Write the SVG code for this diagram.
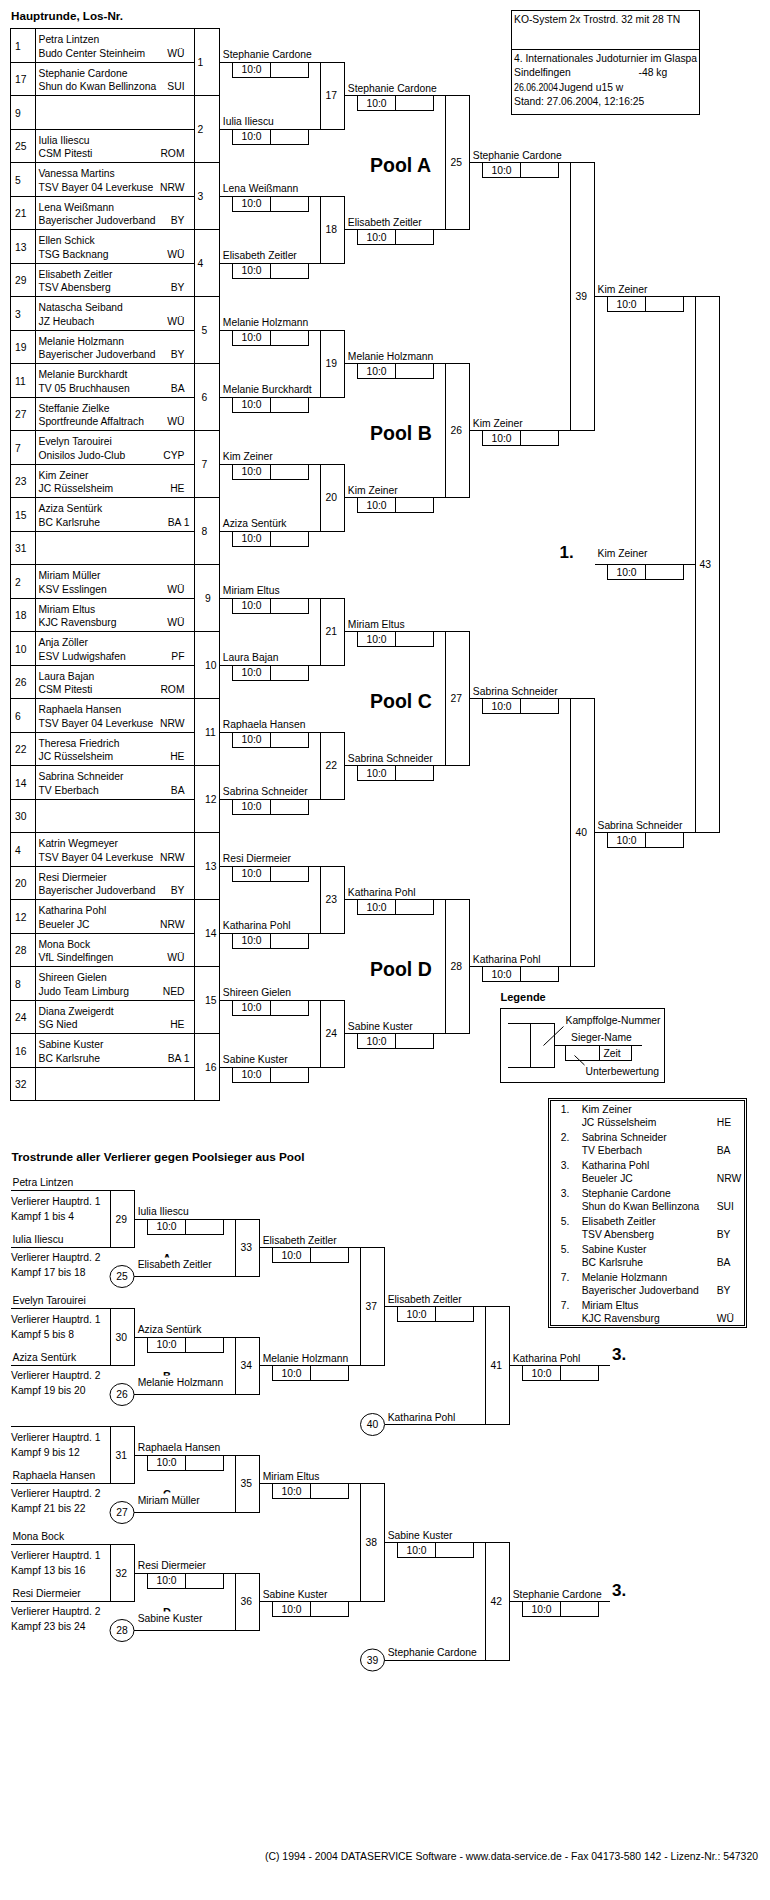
<svg xmlns="http://www.w3.org/2000/svg" width="770" height="1900" viewBox="0 0 770 1900" shape-rendering="crispEdges">
<defs>
<style>
text{font-family:"Liberation Sans",Arial,sans-serif;font-size:11px;fill:#000;transform-box:fill-box;transform-origin:0 0;transform:scaleX(.94)}
.c{text-anchor:middle;transform-origin:50% 0}
.e{text-anchor:end;transform-origin:100% 0}
.bd{font-weight:bold;transform:none}
.nx{transform:none}
.pool{font-size:19.5px}
.pl{font-size:17px}
rect,line,ellipse{fill:none;stroke:#000;stroke-width:1}
.wbg{fill:#fff;stroke:none}
</style>
<clipPath id="cInfo"><rect x="512" y="11" width="187" height="103"/></clipPath>
<clipPath id="cA"><rect x="150" y="1245" width="40" height="12.5"/></clipPath>
<clipPath id="cB"><rect x="150" y="1363" width="40" height="12.5"/></clipPath>
<clipPath id="cC"><rect x="150" y="1481" width="40" height="12.5"/></clipPath>
<clipPath id="cD"><rect x="150" y="1599" width="40" height="12.5"/></clipPath>
</defs>
<rect class="wbg" x="0" y="0" width="770" height="1900"/>

<g id="titles">
<text class="bd" x="11" y="20" textLength="112" lengthAdjust="spacingAndGlyphs">Hauptrunde, Los-Nr.</text>
<text class="bd" x="11.5" y="1160.5" textLength="293" lengthAdjust="spacingAndGlyphs">Trostrunde aller Verlierer gegen Poolsieger aus Pool</text>
<text class="nx" x="265" y="1859.5" font-size="9.6" textLength="493" lengthAdjust="spacingAndGlyphs">(C) 1994 - 2004 DATASERVICE Software - www.data-service.de - Fax 04173-580 142 - Lizenz-Nr.: 547320</text>
</g>

<g id="info">
<rect x="511.5" y="10.5" width="188" height="104"/>
<line x1="511.5" y1="49.5" x2="699.5" y2="49.5"/>
<g clip-path="url(#cInfo)">
<text x="514" y="23">KO-System 2x Trostrd. 32 mit 28 TN</text>
<text x="514" y="62">4. Internationales Judoturnier im Glaspa</text>
<text x="514" y="76.5">Sindelfingen</text>
<text x="638.5" y="76.5">-48 kg</text>
<text class="nx" x="514" y="91" textLength="44" lengthAdjust="spacingAndGlyphs">26.06.2004</text>
<text x="559" y="91">Jugend u15 w</text>
<text x="514" y="105.5">Stand: 27.06.2004, 12:16:25</text>
</g>
</g>

<g id="draw-table">
<rect x="10.5" y="28.5" width="209" height="1072"/>
<line x1="35.5" y1="28.5" x2="35.5" y2="1100.5"/>
<line x1="194.5" y1="28.5" x2="194.5" y2="1100.5"/>
<line x1="10.5" y1="62" x2="194.5" y2="62"/>
<line x1="10.5" y1="95.5" x2="219.5" y2="95.5"/>
<line x1="10.5" y1="129" x2="194.5" y2="129"/>
<line x1="10.5" y1="162.5" x2="219.5" y2="162.5"/>
<line x1="10.5" y1="196" x2="194.5" y2="196"/>
<line x1="10.5" y1="229.5" x2="219.5" y2="229.5"/>
<line x1="10.5" y1="263" x2="194.5" y2="263"/>
<line x1="10.5" y1="296.5" x2="219.5" y2="296.5"/>
<line x1="10.5" y1="330" x2="194.5" y2="330"/>
<line x1="10.5" y1="363.5" x2="219.5" y2="363.5"/>
<line x1="10.5" y1="397" x2="194.5" y2="397"/>
<line x1="10.5" y1="430.5" x2="219.5" y2="430.5"/>
<line x1="10.5" y1="464" x2="194.5" y2="464"/>
<line x1="10.5" y1="497.5" x2="219.5" y2="497.5"/>
<line x1="10.5" y1="531" x2="194.5" y2="531"/>
<line x1="10.5" y1="564.5" x2="219.5" y2="564.5"/>
<line x1="10.5" y1="598" x2="194.5" y2="598"/>
<line x1="10.5" y1="631.5" x2="219.5" y2="631.5"/>
<line x1="10.5" y1="665" x2="194.5" y2="665"/>
<line x1="10.5" y1="698.5" x2="219.5" y2="698.5"/>
<line x1="10.5" y1="732" x2="194.5" y2="732"/>
<line x1="10.5" y1="765.5" x2="219.5" y2="765.5"/>
<line x1="10.5" y1="799" x2="194.5" y2="799"/>
<line x1="10.5" y1="832.5" x2="219.5" y2="832.5"/>
<line x1="10.5" y1="866" x2="194.5" y2="866"/>
<line x1="10.5" y1="899.5" x2="219.5" y2="899.5"/>
<line x1="10.5" y1="933" x2="194.5" y2="933"/>
<line x1="10.5" y1="966.5" x2="219.5" y2="966.5"/>
<line x1="10.5" y1="1000" x2="194.5" y2="1000"/>
<line x1="10.5" y1="1033.5" x2="219.5" y2="1033.5"/>
<line x1="10.5" y1="1067" x2="194.5" y2="1067"/>
</g>

<g id="draw-entries">
<text x="15" y="50">1</text><text x="38.5" y="43.5">Petra Lintzen</text><text x="38.5" y="57">Budo Center Steinheim</text><text class="e" x="184.5" y="57">WÜ</text>
<text x="15" y="83.5">17</text><text x="38.5" y="77">Stephanie Cardone</text><text x="38.5" y="90.5">Shun do Kwan Bellinzona</text><text class="e" x="184.5" y="90.5">SUI</text>
<text x="15" y="117">9</text>
<text x="15" y="150.5">25</text><text x="38.5" y="144">Iulia Iliescu</text><text x="38.5" y="157.5">CSM Pitesti</text><text class="e" x="184.5" y="157.5">ROM</text>
<text x="15" y="184">5</text><text x="38.5" y="177.5">Vanessa Martins</text><text x="38.5" y="191">TSV Bayer 04 Leverkuse</text><text class="e" x="184.5" y="191">NRW</text>
<text x="15" y="217.5">21</text><text x="38.5" y="211">Lena Weißmann</text><text x="38.5" y="224.5">Bayerischer Judoverband</text><text class="e" x="184.5" y="224.5">BY</text>
<text x="15" y="251">13</text><text x="38.5" y="244.5">Ellen Schick</text><text x="38.5" y="258">TSG Backnang</text><text class="e" x="184.5" y="258">WÜ</text>
<text x="15" y="284.5">29</text><text x="38.5" y="278">Elisabeth Zeitler</text><text x="38.5" y="291.5">TSV Abensberg</text><text class="e" x="184.5" y="291.5">BY</text>
<text x="15" y="318">3</text><text x="38.5" y="311.5">Natascha Seiband</text><text x="38.5" y="325">JZ Heubach</text><text class="e" x="184.5" y="325">WÜ</text>
<text x="15" y="351.5">19</text><text x="38.5" y="345">Melanie Holzmann</text><text x="38.5" y="358.5">Bayerischer Judoverband</text><text class="e" x="184.5" y="358.5">BY</text>
<text x="15" y="385">11</text><text x="38.5" y="378.5">Melanie Burckhardt</text><text x="38.5" y="392">TV 05 Bruchhausen</text><text class="e" x="184.5" y="392">BA</text>
<text x="15" y="418.5">27</text><text x="38.5" y="412">Steffanie Zielke</text><text x="38.5" y="425.5">Sportfreunde Affaltrach</text><text class="e" x="184.5" y="425.5">WÜ</text>
<text x="15" y="452">7</text><text x="38.5" y="445.5">Evelyn Tarouirei</text><text x="38.5" y="459">Onisilos Judo-Club</text><text class="e" x="184.5" y="459">CYP</text>
<text x="15" y="485.5">23</text><text x="38.5" y="479">Kim Zeiner</text><text x="38.5" y="492.5">JC Rüsselsheim</text><text class="e" x="184.5" y="492.5">HE</text>
<text x="15" y="519">15</text><text x="38.5" y="512.5">Aziza Sentürk</text><text x="38.5" y="526">BC Karlsruhe</text><text class="e" x="189.5" y="526">BA 1</text>
<text x="15" y="552.5">31</text>
<text x="15" y="586">2</text><text x="38.5" y="579.5">Miriam Müller</text><text x="38.5" y="593">KSV Esslingen</text><text class="e" x="184.5" y="593">WÜ</text>
<text x="15" y="619.5">18</text><text x="38.5" y="613">Miriam Eltus</text><text x="38.5" y="626.5">KJC Ravensburg</text><text class="e" x="184.5" y="626.5">WÜ</text>
<text x="15" y="653">10</text><text x="38.5" y="646.5">Anja Zöller</text><text x="38.5" y="660">ESV Ludwigshafen</text><text class="e" x="184.5" y="660">PF</text>
<text x="15" y="686.5">26</text><text x="38.5" y="680">Laura Bajan</text><text x="38.5" y="693.5">CSM Pitesti</text><text class="e" x="184.5" y="693.5">ROM</text>
<text x="15" y="720">6</text><text x="38.5" y="713.5">Raphaela Hansen</text><text x="38.5" y="727">TSV Bayer 04 Leverkuse</text><text class="e" x="184.5" y="727">NRW</text>
<text x="15" y="753.5">22</text><text x="38.5" y="747">Theresa Friedrich</text><text x="38.5" y="760.5">JC Rüsselsheim</text><text class="e" x="184.5" y="760.5">HE</text>
<text x="15" y="787">14</text><text x="38.5" y="780.5">Sabrina Schneider</text><text x="38.5" y="794">TV Eberbach</text><text class="e" x="184.5" y="794">BA</text>
<text x="15" y="820.5">30</text>
<text x="15" y="854">4</text><text x="38.5" y="847.5">Katrin Wegmeyer</text><text x="38.5" y="861">TSV Bayer 04 Leverkuse</text><text class="e" x="184.5" y="861">NRW</text>
<text x="15" y="887.5">20</text><text x="38.5" y="881">Resi Diermeier</text><text x="38.5" y="894.5">Bayerischer Judoverband</text><text class="e" x="184.5" y="894.5">BY</text>
<text x="15" y="921">12</text><text x="38.5" y="914.5">Katharina Pohl</text><text x="38.5" y="928">Beueler JC</text><text class="e" x="184.5" y="928">NRW</text>
<text x="15" y="954.5">28</text><text x="38.5" y="948">Mona Bock</text><text x="38.5" y="961.5">VfL Sindelfingen</text><text class="e" x="184.5" y="961.5">WÜ</text>
<text x="15" y="988">8</text><text x="38.5" y="981.5">Shireen Gielen</text><text x="38.5" y="995">Judo Team Limburg</text><text class="e" x="184.5" y="995">NED</text>
<text x="15" y="1021.5">24</text><text x="38.5" y="1015">Diana Zweigerdt</text><text x="38.5" y="1028.5">SG Nied</text><text class="e" x="184.5" y="1028.5">HE</text>
<text x="15" y="1055">16</text><text x="38.5" y="1048.5">Sabine Kuster</text><text x="38.5" y="1062">BC Karlsruhe</text><text class="e" x="189.5" y="1062">BA 1</text>
<text x="15" y="1088.5">32</text>
</g>

<g id="m1-16">
<text x="197.5" y="66">1</text><text x="197.5" y="133">2</text><text x="197.5" y="200">3</text><text x="197.5" y="267">4</text>
<text x="201.5" y="334">5</text><text x="201.5" y="401">6</text><text x="201.5" y="468">7</text><text x="201.5" y="535">8</text>
<text x="205" y="602">9</text><text x="205" y="669">10</text><text x="205" y="736">11</text><text x="205" y="803">12</text>
<text x="205" y="870">13</text><text x="205" y="937">14</text><text x="205" y="1004">15</text><text x="205" y="1071">16</text>
</g>

<g id="connectors">
<line x1="219.5" y1="62" x2="320.5" y2="62"/>
<line x1="219.5" y1="129" x2="320.5" y2="129"/>
<line x1="219.5" y1="196" x2="320.5" y2="196"/>
<line x1="219.5" y1="263" x2="320.5" y2="263"/>
<line x1="219.5" y1="330" x2="320.5" y2="330"/>
<line x1="219.5" y1="397" x2="320.5" y2="397"/>
<line x1="219.5" y1="464" x2="320.5" y2="464"/>
<line x1="219.5" y1="531" x2="320.5" y2="531"/>
<line x1="219.5" y1="598" x2="320.5" y2="598"/>
<line x1="219.5" y1="665" x2="320.5" y2="665"/>
<line x1="219.5" y1="732" x2="320.5" y2="732"/>
<line x1="219.5" y1="799" x2="320.5" y2="799"/>
<line x1="219.5" y1="866" x2="320.5" y2="866"/>
<line x1="219.5" y1="933" x2="320.5" y2="933"/>
<line x1="219.5" y1="1000" x2="320.5" y2="1000"/>
<line x1="219.5" y1="1067" x2="320.5" y2="1067"/>
<line x1="344.5" y1="95.5" x2="445.5" y2="95.5"/>
<line x1="344.5" y1="229.5" x2="445.5" y2="229.5"/>
<line x1="344.5" y1="363.5" x2="445.5" y2="363.5"/>
<line x1="344.5" y1="497.5" x2="445.5" y2="497.5"/>
<line x1="344.5" y1="631.5" x2="445.5" y2="631.5"/>
<line x1="344.5" y1="765.5" x2="445.5" y2="765.5"/>
<line x1="344.5" y1="899.5" x2="445.5" y2="899.5"/>
<line x1="344.5" y1="1033.5" x2="445.5" y2="1033.5"/>
<line x1="469.5" y1="162.5" x2="570.5" y2="162.5"/>
<line x1="469.5" y1="430.5" x2="570.5" y2="430.5"/>
<line x1="469.5" y1="698.5" x2="570.5" y2="698.5"/>
<line x1="469.5" y1="966.5" x2="570.5" y2="966.5"/>
<line x1="594.5" y1="296.5" x2="695.5" y2="296.5"/>
<line x1="594.5" y1="832.5" x2="695.5" y2="832.5"/>
<line x1="594.5" y1="564.5" x2="695.5" y2="564.5"/>
<line x1="11" y1="1190.5" x2="134.5" y2="1190.5"/>
<line x1="11" y1="1247.5" x2="134.5" y2="1247.5"/>
<line x1="11" y1="1308.5" x2="134.5" y2="1308.5"/>
<line x1="11" y1="1365.5" x2="134.5" y2="1365.5"/>
<line x1="11" y1="1426.5" x2="134.5" y2="1426.5"/>
<line x1="11" y1="1483.5" x2="134.5" y2="1483.5"/>
<line x1="11" y1="1544.5" x2="134.5" y2="1544.5"/>
<line x1="11" y1="1601.5" x2="134.5" y2="1601.5"/>
<line x1="134.5" y1="1219" x2="235.5" y2="1219"/>
<line x1="134" y1="1276.5" x2="235.5" y2="1276.5"/>
<line x1="134.5" y1="1337" x2="235.5" y2="1337"/>
<line x1="134" y1="1394.5" x2="235.5" y2="1394.5"/>
<line x1="134.5" y1="1455" x2="235.5" y2="1455"/>
<line x1="134" y1="1512.5" x2="235.5" y2="1512.5"/>
<line x1="134.5" y1="1573" x2="235.5" y2="1573"/>
<line x1="134" y1="1630.5" x2="235.5" y2="1630.5"/>
<line x1="259.5" y1="1247.5" x2="360.5" y2="1247.5"/>
<line x1="259.5" y1="1365.5" x2="360.5" y2="1365.5"/>
<line x1="259.5" y1="1483.5" x2="360.5" y2="1483.5"/>
<line x1="259.5" y1="1601.5" x2="360.5" y2="1601.5"/>
<line x1="384.5" y1="1306.5" x2="485.5" y2="1306.5"/>
<line x1="384.5" y1="1424.5" x2="485.5" y2="1424.5"/>
<line x1="384.5" y1="1542.5" x2="485.5" y2="1542.5"/>
<line x1="384.5" y1="1660" x2="485.5" y2="1660"/>
<line x1="509.5" y1="1365.5" x2="609.5" y2="1365.5"/>
<line x1="509.5" y1="1601.5" x2="609.5" y2="1601.5"/>
</g>

<g id="r1-winners">
<text x="222.8" y="58.5">Stephanie Cardone</text><rect x="232.5" y="62" width="76" height="15"/><line x1="270.5" y1="62" x2="270.5" y2="77"/><text class="c" x="251.5" y="73.5">10:0</text>
<text x="222.8" y="125.5">Iulia Iliescu</text><rect x="232.5" y="129" width="76" height="15"/><line x1="270.5" y1="129" x2="270.5" y2="144"/><text class="c" x="251.5" y="140.5">10:0</text>
<text x="222.8" y="192.5">Lena Weißmann</text><rect x="232.5" y="196" width="76" height="15"/><line x1="270.5" y1="196" x2="270.5" y2="211"/><text class="c" x="251.5" y="207.5">10:0</text>
<text x="222.8" y="259.5">Elisabeth Zeitler</text><rect x="232.5" y="263" width="76" height="15"/><line x1="270.5" y1="263" x2="270.5" y2="278"/><text class="c" x="251.5" y="274.5">10:0</text>
<text x="222.8" y="326.5">Melanie Holzmann</text><rect x="232.5" y="330" width="76" height="15"/><line x1="270.5" y1="330" x2="270.5" y2="345"/><text class="c" x="251.5" y="341.5">10:0</text>
<text x="222.8" y="393.5">Melanie Burckhardt</text><rect x="232.5" y="397" width="76" height="15"/><line x1="270.5" y1="397" x2="270.5" y2="412"/><text class="c" x="251.5" y="408.5">10:0</text>
<text x="222.8" y="460.5">Kim Zeiner</text><rect x="232.5" y="464" width="76" height="15"/><line x1="270.5" y1="464" x2="270.5" y2="479"/><text class="c" x="251.5" y="475.5">10:0</text>
<text x="222.8" y="527.5">Aziza Sentürk</text><rect x="232.5" y="531" width="76" height="15"/><line x1="270.5" y1="531" x2="270.5" y2="546"/><text class="c" x="251.5" y="542.5">10:0</text>
<text x="222.8" y="594.5">Miriam Eltus</text><rect x="232.5" y="598" width="76" height="15"/><line x1="270.5" y1="598" x2="270.5" y2="613"/><text class="c" x="251.5" y="609.5">10:0</text>
<text x="222.8" y="661.5">Laura Bajan</text><rect x="232.5" y="665" width="76" height="15"/><line x1="270.5" y1="665" x2="270.5" y2="680"/><text class="c" x="251.5" y="676.5">10:0</text>
<text x="222.8" y="728.5">Raphaela Hansen</text><rect x="232.5" y="732" width="76" height="15"/><line x1="270.5" y1="732" x2="270.5" y2="747"/><text class="c" x="251.5" y="743.5">10:0</text>
<text x="222.8" y="795.5">Sabrina Schneider</text><rect x="232.5" y="799" width="76" height="15"/><line x1="270.5" y1="799" x2="270.5" y2="814"/><text class="c" x="251.5" y="810.5">10:0</text>
<text x="222.8" y="862.5">Resi Diermeier</text><rect x="232.5" y="866" width="76" height="15"/><line x1="270.5" y1="866" x2="270.5" y2="881"/><text class="c" x="251.5" y="877.5">10:0</text>
<text x="222.8" y="929.5">Katharina Pohl</text><rect x="232.5" y="933" width="76" height="15"/><line x1="270.5" y1="933" x2="270.5" y2="948"/><text class="c" x="251.5" y="944.5">10:0</text>
<text x="222.8" y="996.5">Shireen Gielen</text><rect x="232.5" y="1000" width="76" height="15"/><line x1="270.5" y1="1000" x2="270.5" y2="1015"/><text class="c" x="251.5" y="1011.5">10:0</text>
<text x="222.8" y="1063.5">Sabine Kuster</text><rect x="232.5" y="1067" width="76" height="15"/><line x1="270.5" y1="1067" x2="270.5" y2="1082"/><text class="c" x="251.5" y="1078.5">10:0</text>
</g>

<g id="m17"><rect x="320.5" y="62" width="24" height="67"/><text x="325.5" y="99.5">17</text></g>
<g id="m18"><rect x="320.5" y="196" width="24" height="67"/><text x="325.5" y="233.5">18</text></g>
<g id="m19"><rect x="320.5" y="330" width="24" height="67"/><text x="325.5" y="367.5">19</text></g>
<g id="m20"><rect x="320.5" y="464" width="24" height="67"/><text x="325.5" y="501.5">20</text></g>
<g id="m21"><rect x="320.5" y="598" width="24" height="67"/><text x="325.5" y="635.5">21</text></g>
<g id="m22"><rect x="320.5" y="732" width="24" height="67"/><text x="325.5" y="769.5">22</text></g>
<g id="m23"><rect x="320.5" y="866" width="24" height="67"/><text x="325.5" y="903.5">23</text></g>
<g id="m24"><rect x="320.5" y="1000" width="24" height="67"/><text x="325.5" y="1037.5">24</text></g>

<g id="r2-winners">
<text x="347.8" y="92">Stephanie Cardone</text><rect x="357.5" y="95.5" width="76" height="15"/><line x1="395.5" y1="95.5" x2="395.5" y2="110.5"/><text class="c" x="376.5" y="107">10:0</text>
<text x="347.8" y="226">Elisabeth Zeitler</text><rect x="357.5" y="229.5" width="76" height="15"/><line x1="395.5" y1="229.5" x2="395.5" y2="244.5"/><text class="c" x="376.5" y="241">10:0</text>
<text x="347.8" y="360">Melanie Holzmann</text><rect x="357.5" y="363.5" width="76" height="15"/><line x1="395.5" y1="363.5" x2="395.5" y2="378.5"/><text class="c" x="376.5" y="375">10:0</text>
<text x="347.8" y="494">Kim Zeiner</text><rect x="357.5" y="497.5" width="76" height="15"/><line x1="395.5" y1="497.5" x2="395.5" y2="512.5"/><text class="c" x="376.5" y="509">10:0</text>
<text x="347.8" y="628">Miriam Eltus</text><rect x="357.5" y="631.5" width="76" height="15"/><line x1="395.5" y1="631.5" x2="395.5" y2="646.5"/><text class="c" x="376.5" y="643">10:0</text>
<text x="347.8" y="762">Sabrina Schneider</text><rect x="357.5" y="765.5" width="76" height="15"/><line x1="395.5" y1="765.5" x2="395.5" y2="780.5"/><text class="c" x="376.5" y="777">10:0</text>
<text x="347.8" y="896">Katharina Pohl</text><rect x="357.5" y="899.5" width="76" height="15"/><line x1="395.5" y1="899.5" x2="395.5" y2="914.5"/><text class="c" x="376.5" y="911">10:0</text>
<text x="347.8" y="1030">Sabine Kuster</text><rect x="357.5" y="1033.5" width="76" height="15"/><line x1="395.5" y1="1033.5" x2="395.5" y2="1048.5"/><text class="c" x="376.5" y="1045">10:0</text>
</g>

<g id="pools">
<text class="bd pool" x="370" y="172">Pool A</text>
<text class="bd pool" x="370" y="440">Pool B</text>
<text class="bd pool" x="370" y="708">Pool C</text>
<text class="bd pool" x="370" y="976">Pool D</text>
</g>

<g id="m25"><rect x="445.5" y="95.5" width="24" height="134"/><text x="450.5" y="166.5">25</text></g>
<g id="m26"><rect x="445.5" y="363.5" width="24" height="134"/><text x="450.5" y="434.5">26</text></g>
<g id="m27"><rect x="445.5" y="631.5" width="24" height="134"/><text x="450.5" y="702.5">27</text></g>
<g id="m28"><rect x="445.5" y="899.5" width="24" height="134"/><text x="450.5" y="970.5">28</text></g>

<g id="r3-winners">
<text x="472.8" y="159">Stephanie Cardone</text><rect x="482.5" y="162.5" width="76" height="15"/><line x1="520.5" y1="162.5" x2="520.5" y2="177.5"/><text class="c" x="501.5" y="174">10:0</text>
<text x="472.8" y="427">Kim Zeiner</text><rect x="482.5" y="430.5" width="76" height="15"/><line x1="520.5" y1="430.5" x2="520.5" y2="445.5"/><text class="c" x="501.5" y="442">10:0</text>
<text x="472.8" y="695">Sabrina Schneider</text><rect x="482.5" y="698.5" width="76" height="15"/><line x1="520.5" y1="698.5" x2="520.5" y2="713.5"/><text class="c" x="501.5" y="710">10:0</text>
<text x="472.8" y="963">Katharina Pohl</text><rect x="482.5" y="966.5" width="76" height="15"/><line x1="520.5" y1="966.5" x2="520.5" y2="981.5"/><text class="c" x="501.5" y="978">10:0</text>
</g>

<g id="m39"><rect x="570.5" y="162.5" width="24" height="268"/><text x="575.5" y="300.5">39</text></g>
<g id="m40"><rect x="570.5" y="698.5" width="24" height="268"/><text x="575.5" y="836.5">40</text></g>

<g id="r4-winners">
<text x="597.5" y="293">Kim Zeiner</text><rect x="607.5" y="296.5" width="76" height="15"/><line x1="645.5" y1="296.5" x2="645.5" y2="311.5"/><text class="c" x="626.5" y="308">10:0</text>
<text x="597.5" y="829">Sabrina Schneider</text><rect x="607.5" y="832.5" width="76" height="15"/><line x1="645.5" y1="832.5" x2="645.5" y2="847.5"/><text class="c" x="626.5" y="844">10:0</text>
</g>

<g id="m43"><rect x="695.5" y="296.5" width="24" height="536"/><text x="699.5" y="568.5">43</text></g>

<g id="final">
<text class="bd pl" x="559.5" y="558">1.</text>
<text x="597.5" y="557.5">Kim Zeiner</text><rect x="607.5" y="564.5" width="76" height="15"/><line x1="645.5" y1="564.5" x2="645.5" y2="579.5"/><text class="c" x="626.5" y="576">10:0</text>
</g>

<g id="legend">
<text class="bd" x="500.5" y="1000.5" font-size="11.5">Legende</text>
<rect x="500.5" y="1008.5" width="164" height="73.5"/>
<line x1="508" y1="1023.5" x2="530.5" y2="1023.5"/>
<line x1="508" y1="1067" x2="530.5" y2="1067"/>
<rect x="530.5" y="1023.5" width="24" height="43.5"/>
<line x1="554.5" y1="1045.5" x2="641.5" y2="1045.5"/>
<rect x="565.5" y="1045.5" width="66" height="15"/>
<line x1="599" y1="1045.5" x2="599" y2="1060.5"/>
<line x1="543.5" y1="1045.5" x2="563.5" y2="1026.5" shape-rendering="auto"/>
<line x1="574.5" y1="1055.5" x2="584.5" y2="1065" shape-rendering="auto"/>
<text x="565.5" y="1024">Kampffolge-Nummer</text>
<text x="571" y="1041">Sieger-Name</text>
<text x="603.5" y="1057.5">Zeit</text>
<text x="585.5" y="1075">Unterbewertung</text>
</g>

<g id="ranking">
<rect x="548.5" y="1098" width="198" height="229.5"/>
<rect x="550.5" y="1100" width="194" height="225.5"/>
<text x="560.7" y="1113">1.</text><text x="581.7" y="1113">Kim Zeiner</text><text x="581.7" y="1126">JC Rüsselsheim</text><text x="716.7" y="1126">HE</text>
<text x="560.7" y="1141">2.</text><text x="581.7" y="1141">Sabrina Schneider</text><text x="581.7" y="1154">TV Eberbach</text><text x="716.7" y="1154">BA</text>
<text x="560.7" y="1169">3.</text><text x="581.7" y="1169">Katharina Pohl</text><text x="581.7" y="1182">Beueler JC</text><text x="716.7" y="1182">NRW</text>
<text x="560.7" y="1197">3.</text><text x="581.7" y="1197">Stephanie Cardone</text><text x="581.7" y="1210">Shun do Kwan Bellinzona</text><text x="716.7" y="1210">SUI</text>
<text x="560.7" y="1225">5.</text><text x="581.7" y="1225">Elisabeth Zeitler</text><text x="581.7" y="1238">TSV Abensberg</text><text x="716.7" y="1238">BY</text>
<text x="560.7" y="1253">5.</text><text x="581.7" y="1253">Sabine Kuster</text><text x="581.7" y="1266">BC Karlsruhe</text><text x="716.7" y="1266">BA</text>
<text x="560.7" y="1281.5">7.</text><text x="581.7" y="1281.5">Melanie Holzmann</text><text x="581.7" y="1294.5">Bayerischer Judoverband</text><text x="716.7" y="1294.5">BY</text>
<text x="560.7" y="1309.5">7.</text><text x="581.7" y="1309.5">Miriam Eltus</text><text x="581.7" y="1322.5">KJC Ravensburg</text><text x="716.7" y="1322.5">WÜ</text>
</g>

<g id="trost-left">
<text x="12.5" y="1186">Petra Lintzen</text>
<text x="11" y="1205">Verlierer Hauptrd. 1</text><text x="11" y="1220">Kampf 1 bis 4</text>
<text x="12.5" y="1243">Iulia Iliescu</text>
<text x="11" y="1261.5">Verlierer Hauptrd. 2</text><text x="11" y="1276.5">Kampf 17 bis 18</text>
<text x="12.5" y="1304">Evelyn Tarouirei</text>
<text x="11" y="1323">Verlierer Hauptrd. 1</text><text x="11" y="1338">Kampf 5 bis 8</text>
<text x="12.5" y="1361">Aziza Sentürk</text>
<text x="11" y="1379.5">Verlierer Hauptrd. 2</text><text x="11" y="1394.5">Kampf 19 bis 20</text>
<text x="11" y="1441">Verlierer Hauptrd. 1</text><text x="11" y="1456">Kampf 9 bis 12</text>
<text x="12.5" y="1479">Raphaela Hansen</text>
<text x="11" y="1497.5">Verlierer Hauptrd. 2</text><text x="11" y="1512.5">Kampf 21 bis 22</text>
<text x="12.5" y="1540">Mona Bock</text>
<text x="11" y="1559">Verlierer Hauptrd. 1</text><text x="11" y="1574">Kampf 13 bis 16</text>
<text x="12.5" y="1597">Resi Diermeier</text>
<text x="11" y="1615.5">Verlierer Hauptrd. 2</text><text x="11" y="1630.5">Kampf 23 bis 24</text>
</g>

<g id="m29"><rect x="110.5" y="1190.5" width="24" height="57"/><text x="115.5" y="1223">29</text></g>
<g id="m30"><rect x="110.5" y="1308.5" width="24" height="57"/><text x="115.5" y="1341">30</text></g>
<g id="m31"><rect x="110.5" y="1426.5" width="24" height="57"/><text x="115.5" y="1459">31</text></g>
<g id="m32"><rect x="110.5" y="1544.5" width="24" height="57"/><text x="115.5" y="1577">32</text></g>

<g id="c25"><ellipse cx="122" cy="1276.5" rx="12" ry="11" shape-rendering="auto"/><text class="c" x="122" y="1280.5">25</text></g>
<g id="c26"><ellipse cx="122" cy="1394.5" rx="12" ry="11" shape-rendering="auto"/><text class="c" x="122" y="1398.5">26</text></g>
<g id="c27"><ellipse cx="122" cy="1512.5" rx="12" ry="11" shape-rendering="auto"/><text class="c" x="122" y="1516.5">27</text></g>
<g id="c28"><ellipse cx="122" cy="1630.5" rx="12" ry="11" shape-rendering="auto"/><text class="c" x="122" y="1634.5">28</text></g>

<g id="letters">
<text class="bd c" x="167" y="1262.2" font-size="17" clip-path="url(#cA)">A</text>
<text class="bd c" x="167" y="1380.2" font-size="17" clip-path="url(#cB)">B</text>
<text class="bd c" x="167" y="1498.2" font-size="17" clip-path="url(#cC)">C</text>
<text class="bd c" x="167" y="1616.2" font-size="17" clip-path="url(#cD)">D</text>
</g>

<g id="t-winners1">
<text x="137.7" y="1215.5">Iulia Iliescu</text><rect x="147.5" y="1219" width="76" height="15"/><line x1="185.5" y1="1219" x2="185.5" y2="1234"/><text class="c" x="166.5" y="1230.5">10:0</text>
<text x="137.7" y="1268.5">Elisabeth Zeitler</text>
<text x="137.7" y="1333.5">Aziza Sentürk</text><rect x="147.5" y="1337" width="76" height="15"/><line x1="185.5" y1="1337" x2="185.5" y2="1352"/><text class="c" x="166.5" y="1348.5">10:0</text>
<text x="137.7" y="1386.5">Melanie Holzmann</text>
<text x="137.7" y="1451.5">Raphaela Hansen</text><rect x="147.5" y="1455" width="76" height="15"/><line x1="185.5" y1="1455" x2="185.5" y2="1470"/><text class="c" x="166.5" y="1466.5">10:0</text>
<text x="137.7" y="1504.5">Miriam Müller</text>
<text x="137.7" y="1569.5">Resi Diermeier</text><rect x="147.5" y="1573" width="76" height="15"/><line x1="185.5" y1="1573" x2="185.5" y2="1588"/><text class="c" x="166.5" y="1584.5">10:0</text>
<text x="137.7" y="1622.5">Sabine Kuster</text>
</g>

<g id="m33"><rect x="235.5" y="1219" width="24" height="57.5"/><text x="240.5" y="1251.5">33</text></g>
<g id="m34"><rect x="235.5" y="1337" width="24" height="57.5"/><text x="240.5" y="1369.5">34</text></g>
<g id="m35"><rect x="235.5" y="1455" width="24" height="57.5"/><text x="240.5" y="1487.5">35</text></g>
<g id="m36"><rect x="235.5" y="1573" width="24" height="57.5"/><text x="240.5" y="1605.5">36</text></g>

<g id="t-winners2">
<text x="262.7" y="1244">Elisabeth Zeitler</text><rect x="272.5" y="1247.5" width="76" height="15"/><line x1="310.5" y1="1247.5" x2="310.5" y2="1262.5"/><text class="c" x="291.5" y="1259">10:0</text>
<text x="262.7" y="1362">Melanie Holzmann</text><rect x="272.5" y="1365.5" width="76" height="15"/><line x1="310.5" y1="1365.5" x2="310.5" y2="1380.5"/><text class="c" x="291.5" y="1377">10:0</text>
<text x="262.7" y="1480">Miriam Eltus</text><rect x="272.5" y="1483.5" width="76" height="15"/><line x1="310.5" y1="1483.5" x2="310.5" y2="1498.5"/><text class="c" x="291.5" y="1495">10:0</text>
<text x="262.7" y="1598">Sabine Kuster</text><rect x="272.5" y="1601.5" width="76" height="15"/><line x1="310.5" y1="1601.5" x2="310.5" y2="1616.5"/><text class="c" x="291.5" y="1613">10:0</text>
</g>

<g id="m37"><rect x="360.5" y="1247.5" width="24" height="118"/><text x="365.5" y="1310.5">37</text></g>
<g id="m38"><rect x="360.5" y="1483.5" width="24" height="118"/><text x="365.5" y="1546.5">38</text></g>

<g id="c40"><ellipse cx="372.5" cy="1424.5" rx="12" ry="11" shape-rendering="auto"/><text class="c" x="372.5" y="1428.5">40</text></g>
<g id="c39"><ellipse cx="372.5" cy="1660" rx="12" ry="11" shape-rendering="auto"/><text class="c" x="372.5" y="1664">39</text></g>

<g id="t-winners3">
<text x="387.7" y="1303">Elisabeth Zeitler</text><rect x="397.5" y="1306.5" width="76" height="15"/><line x1="435.5" y1="1306.5" x2="435.5" y2="1321.5"/><text class="c" x="416.5" y="1318">10:0</text>
<text x="387.7" y="1421">Katharina Pohl</text>
<text x="387.7" y="1539">Sabine Kuster</text><rect x="397.5" y="1542.5" width="76" height="15"/><line x1="435.5" y1="1542.5" x2="435.5" y2="1557.5"/><text class="c" x="416.5" y="1554">10:0</text>
<text x="387.7" y="1656.5">Stephanie Cardone</text>
</g>

<g id="m41"><rect x="485.5" y="1306.5" width="24" height="118"/><text x="490.5" y="1369.5">41</text></g>
<g id="m42"><rect x="485.5" y="1542.5" width="24" height="117.5"/><text x="490.5" y="1605">42</text></g>

<g id="third-places">
<text x="512.7" y="1362">Katharina Pohl</text><rect x="522.5" y="1365.5" width="76" height="15"/><line x1="560.5" y1="1365.5" x2="560.5" y2="1380.5"/><text class="c" x="541.5" y="1377">10:0</text>
<text class="bd pl" x="612" y="1360">3.</text>
<text x="512.7" y="1598">Stephanie Cardone</text><rect x="522.5" y="1601.5" width="76" height="15"/><line x1="560.5" y1="1601.5" x2="560.5" y2="1616.5"/><text class="c" x="541.5" y="1613">10:0</text>
<text class="bd pl" x="612" y="1596">3.</text>
</g>
</svg>
